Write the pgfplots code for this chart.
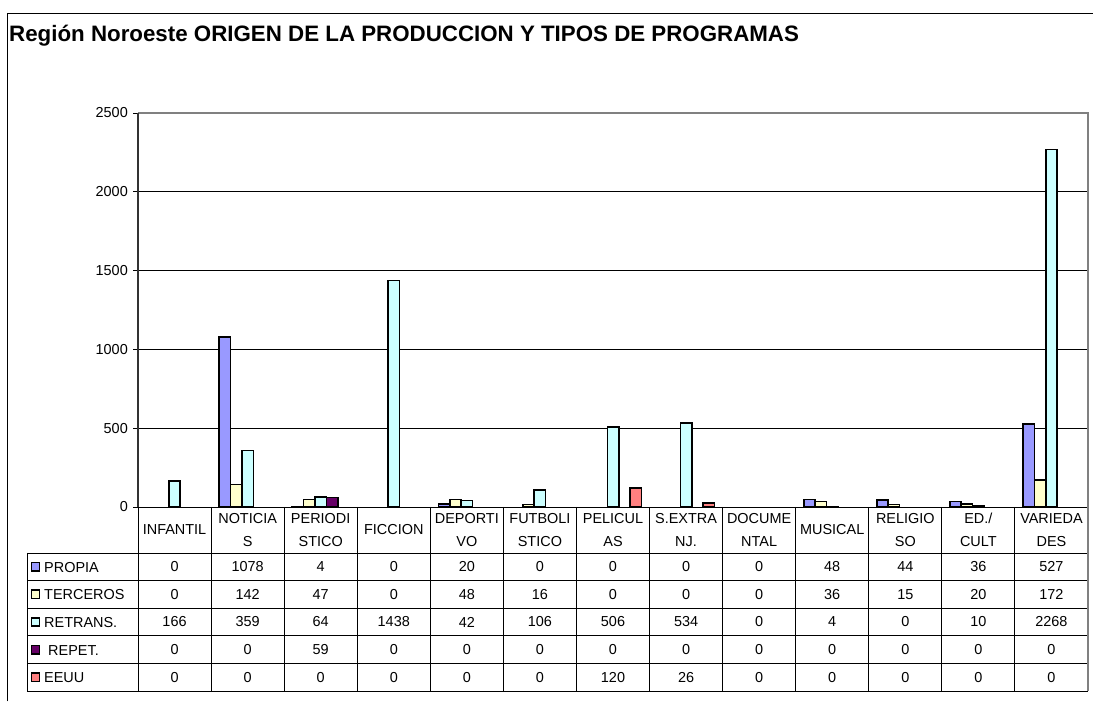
\documentclass[border=0pt]{standalone}
\usepackage{fontspec}
\setmainfont{Liberation Sans}
\usepackage{pgfplots}
\usepackage{pgfplotstable}
\pgfplotsset{compat=1.18}
\definecolor{cPropia}{HTML}{9999FF}
\definecolor{cTerceros}{HTML}{FFFFCC}
\definecolor{cRetrans}{HTML}{CCFFFF}
\definecolor{cRepet}{HTML}{660066}
\definecolor{cEeuu}{HTML}{FF8080}
\definecolor{cBorder}{HTML}{808080}
\pgfplotstableread{
x propia terceros retrans repet eeuu
0 0 0 166 0 0
1 1078 142 359 0 0
2 4 47 64 59 0
3 0 0 1438 0 0
4 20 48 42 0 0
5 0 16 106 0 0
6 0 0 506 0 120
7 0 0 534 0 26
8 0 0 0 0 0
9 48 36 4 0 0
10 44 15 0 0 0
11 36 20 10 0 0
12 527 172 2268 0 0
}\datatable
\begin{document}
\begin{tikzpicture}
\useasboundingbox (0,0) rectangle (1093bp,702bp);
\fill[white] (0,0) rectangle (1093bp,702bp);
\begin{axis}[
  at={(138bp,195bp)}, anchor=south west,
  scale only axis, width=950bp, height=394bp,
  xmin=-0.5, xmax=12.5, ymin=0, ymax=2500,
  xtick=\empty,
  ytick={0,500,1000,1500,2000,2500},
  ytick pos=left,
  ymajorgrids, grid style={black, line width=0.8bp},
  axis line style={draw=none},
  ytick align=outside, major tick length=5bp,
  tick style={black, line width=0.8bp},
  yticklabel style={font=\fontsize{14.5}{17}\selectfont, inner sep=0pt, xshift=-5bp},
  /pgf/number format/assume math mode=true,
  /pgf/number format/set thousands separator={},
  ybar=0pt, bar width=11.4bp,
  unbounded coords=discard,
  every axis plot/.append style={draw=black, line width=1.6bp, y filter/.expression={y==0 ? nan : y}},
  clip=false,
]
\addplot[fill=cPropia] table[x=x, y=propia] {\datatable};
\addplot[fill=cTerceros] table[x=x, y=terceros] {\datatable};
\addplot[fill=cRetrans] table[x=x, y=retrans] {\datatable};
\addplot[fill=cRepet] table[x=x, y=repet] {\datatable};
\addplot[fill=cEeuu] table[x=x, y=eeuu] {\datatable};
\end{axis}
\begin{scope}[x=1bp, y=-1bp, shift={(0,702bp)}]
  % outer chart frame
  \draw[black, line width=1bp] (7,701.5) -- (7,14) -- (1092.5,14);
  % title
  \node[anchor=base west, inner sep=0pt, font=\fontsize{22.4}{26}\selectfont\bfseries] at (9,42)
    {Región Noroeste ORIGEN DE LA PRODUCCION Y TIPOS DE PROGRAMAS};
  % plot area borders
  \draw[cBorder, line width=1.6bp] (138,113) -- (1088,113) -- (1088,507);
  \draw[black!80, line width=1.2bp] (138,113) -- (138,507);
  % table grid
  \draw[black, line width=0.9bp] (138,507) -- (1088,507);
  \foreach \yy in {553,580.6,608.2,635.8,663.4,691} {
    \draw[black, line width=0.9bp] (27,\yy) -- (1088,\yy);
  }
  \draw[black, line width=0.9bp] (27,553) -- (27,691);
  \foreach \i in {0,...,12} {
    \draw[black, line width=0.9bp] ({138+73.077*\i},507) -- ({138+73.077*\i},691);
  }
  \draw[cBorder, line width=1.2bp] (1088,507) -- (1088,691);
  % category labels
  \foreach \lab [count=\i from 0] in {{INFANTIL},{NOTICIA\\S},{PERIODI\\STICO},{FICCION},{DEPORTI\\VO},{FUTBOLI\\STICO},{PELICUL\\AS},{S.EXTRA\\NJ.},{DOCUME\\NTAL},{MUSICAL},{RELIGIO\\SO},{ED./\\CULT},{VARIEDA\\DES}} {
    \node[align=center, inner sep=0pt, font=\fontsize{14.5}{22.5}\selectfont] at ({138+73.077*(\i+0.5)},530) {\lab};
  }
  % legend keys and series names
  \foreach \s/\c/\n [count=\k] in {propia/cPropia/PROPIA, terceros/cTerceros/TERCEROS, retrans/cRetrans/RETRANS., repet/cRepet/{\ REPET.}, eeuu/cEeuu/EEUU} {
    \draw[black, line width=1.5bp, fill=\c] (31.5,{553+27.6*(\k-0.5)-4.2}) rectangle (39.5,{553+27.6*(\k-0.5)+4.2});
    \node[anchor=west, inner sep=0pt, font=\fontsize{14.5}{17}\selectfont] at (44,{553+27.6*(\k-0.5)+0.5}) {\n};
    \foreach \i in {0,...,12} {
      \pgfplotstablegetelem{\i}{\s}\of\datatable
      \node[inner sep=0pt, font=\fontsize{14.5}{17}\selectfont] at ({138+73.077*(\i+0.5)},{553+27.6*(\k-0.5)}) {\pgfplotsretval};
    }
  }
\end{scope}
\end{tikzpicture}
\end{document}
